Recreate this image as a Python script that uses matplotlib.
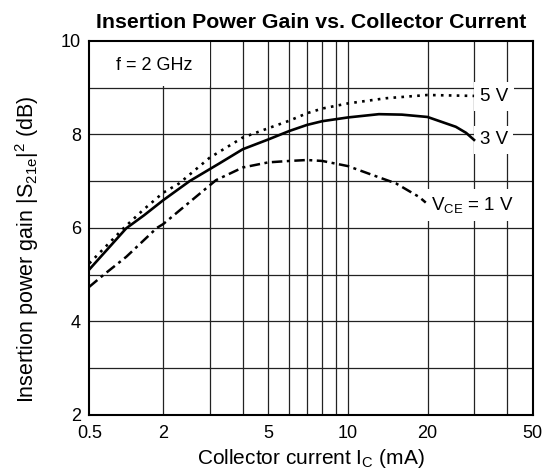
import numpy as np
import matplotlib
matplotlib.use('Agg')
import matplotlib.pyplot as plt
from matplotlib.patches import Rectangle

plt.rcParams['font.family'] = ['Liberation Sans', 'DejaVu Sans']
plt.rcParams['mathtext.fontset'] = 'custom'
plt.rcParams['mathtext.rm'] = 'Liberation Sans'
plt.rcParams['mathtext.it'] = 'Liberation Sans:italic'

# values (Ic in mA, gain in dB)
ic_5v = [0.5, 0.95, 1.37, 2, 2.3, 3, 4, 5, 6, 7, 8, 10, 13.9, 20, 30]
gain_5v = [5.24, 5.99, 6.38, 6.75, 6.95, 7.5, 7.93, 8.13, 8.29, 8.45, 8.55, 8.66, 8.77, 8.84, 8.82]

ic_3v = [0.5, 1.0, 1.4, 2, 2.52, 3.27, 4, 5, 6, 7, 8, 10, 13.1, 16, 20, 25.6, 28, 30]
gain_3v = [5.11, 5.99, 6.27, 6.59, 7.0, 7.38, 7.68, 7.89, 8.07, 8.20, 8.28, 8.36, 8.43, 8.42, 8.37, 8.16, 8.03, 7.88]

ic_1v = [0.5, 0.65, 1.0, 1.78, 2, 3.17, 4, 5, 6, 7, 8, 10, 13.1, 15.2, 18.6, 19.7]
gain_1v = [4.74, 4.99, 5.38, 6.0, 6.08, 7.02, 7.29, 7.40, 7.43, 7.45, 7.43, 7.32, 7.08, 6.95, 6.66, 6.54]

x_ticks = [0.5, 2, 5, 10, 20, 50]
x_grid = [2, 3, 4, 5, 6, 7, 8, 9, 10, 20, 30, 40]
y_ticks = [2, 4, 6, 8, 10]
y_grid = [3, 4, 5, 6, 7, 8, 9]

# the chart squeezes the 0.5..2 mA part of the log axis
L2 = np.log10(2)
K = 0.464


def fwd(x):
    lx = np.log10(np.clip(x, 1e-6, None))
    return np.where(lx >= L2, lx, L2 + K * (lx - L2))


def inv(y):
    y = np.asarray(y, dtype=float)
    return np.where(y >= L2, 10 ** y, 10 ** (L2 + (y - L2) / K))


fig = plt.figure(figsize=(5.56, 4.74), dpi=100)
ax = fig.add_axes([0.1606, 0.1245, 0.7975, 0.7896])

ax.set_xscale('function', functions=(fwd, inv))
ax.set_xlim(0.5, 50)
ax.set_ylim(2, 10)

ax.set_xticks(x_ticks)
ax.set_xticklabels(['0.5', '2', '5', '10', '20', '50'])
ax.set_xticks(x_grid, minor=True)
ax.set_yticks(y_ticks)
ax.set_yticks(y_grid, minor=True)
ax.tick_params(which='both', length=0)
ax.tick_params(axis='x', pad=7, labelsize=13)
ax.tick_params(axis='y', pad=6, labelsize=13)

ax.grid(False)
for xv in x_grid:
    ax.axvline(xv, color='#222222', lw=0.9, zorder=1.5)
for yv in y_grid:
    ax.axhline(yv, color='#222222', lw=0.9, zorder=1.5)

for s in ax.spines.values():
    s.set_linewidth(1.5)

ax.plot(ic_5v, gain_5v, color='black', lw=1.9, linestyle=(0, (1, 2.0)), zorder=3)
ax.plot(ic_3v, gain_3v, color='black', lw=1.9, zorder=3)
ax.plot(ic_1v, gain_1v, color='black', lw=1.8, linestyle=(0, (4.2, 1.8, 1.2, 1.8)), zorder=3)

# white patch behind the frequency note
ax.add_patch(Rectangle((0, 0.879), 0.272, 0.121, transform=ax.transAxes,
                       facecolor='white', edgecolor='none', zorder=1.6))
ax.text(0.146, 0.933, 'f = 2 GHz', transform=ax.transAxes, fontsize=13,
        ha='center', va='center', zorder=1.8)

box = dict(facecolor='white', edgecolor='none', pad=4)
ax.text(31.5, 8.81, '5 V', fontsize=13.5, ha='left', va='center', bbox=box, zorder=1.8)
ax.text(31.5, 7.88, '3 V', fontsize=13.5, ha='left', va='center', bbox=box, zorder=1.8)
ax.text(20.7, 6.49, r'V$\mathrm{_{CE}}$ = 1 V', fontsize=13.5, ha='left', va='center',
        bbox=box, zorder=1.8)

ax.set_title('Insertion Power Gain vs. Collector Current', fontsize=15.3,
             fontweight='bold', pad=9)
ax.set_xlabel(r'Collector current I$\mathrm{_C}$ (mA)', fontsize=15, labelpad=4)
ax.set_ylabel(r'Insertion power gain $|\mathrm{S_{21e}}|^2$ (dB)', fontsize=15.5,
              va='center')
ax.yaxis.set_label_coords(-0.14, 0.444)

fig.savefig('out.png', dpi=100)
